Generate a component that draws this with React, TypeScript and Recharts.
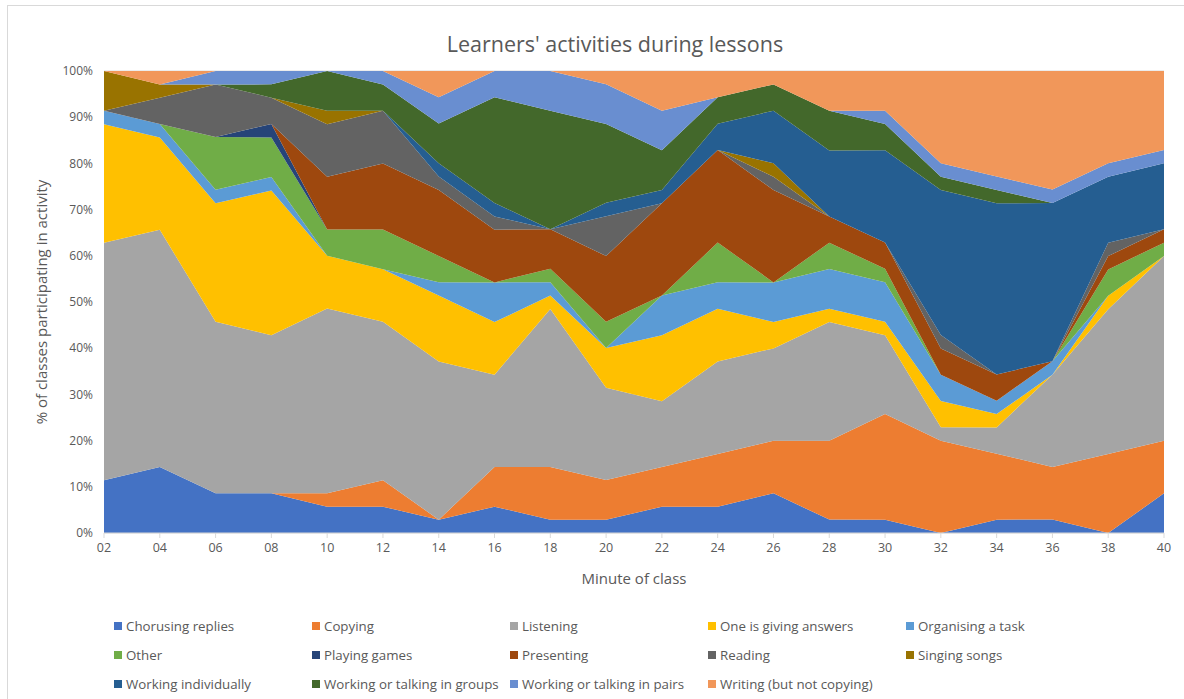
import { AreaChart, Area, XAxis, YAxis, CartesianGrid } from "recharts";

// Minutes of class (x categories)
const MINUTES = ["02", "04", "06", "08", "10", "12", "14", "16", "18", "20", "22", "24", "26", "28", "30", "32", "34", "36", "38", "40"];

// % of classes per activity
const CHORUSING = [11.4, 14.3, 8.6, 8.6, 5.7, 5.7, 2.9, 5.7, 2.9, 2.9, 5.7, 5.7, 8.6, 2.9, 2.9, 0, 2.9, 2.9, 0, 8.6];
const COPYING = [0, 0, 0, 0, 2.9, 5.7, 0, 8.6, 11.4, 8.6, 8.6, 11.4, 11.4, 17.1, 22.9, 20, 14.3, 11.4, 17.1, 11.4];
const LISTENING = [51.4, 51.4, 37.1, 34.3, 40, 34.3, 34.3, 20, 34.3, 20, 14.3, 20, 20, 25.7, 17.1, 2.9, 5.7, 20, 31.4, 40];
const GIVING_ANSWERS = [25.7, 20, 25.7, 31.4, 11.4, 11.4, 14.3, 11.4, 2.9, 8.6, 14.3, 11.4, 5.7, 2.9, 2.9, 5.7, 2.9, 0, 2.9, 0];
const ORGANISING = [2.9, 2.9, 2.9, 2.9, 0, 0, 2.9, 8.6, 2.9, 0, 8.6, 5.7, 8.6, 8.6, 8.6, 5.7, 2.9, 2.9, 0, 0];
const OTHER = [0, 0, 11.4, 8.6, 5.7, 8.6, 5.7, 0, 2.9, 5.7, 0, 8.6, 0, 5.7, 2.9, 0, 0, 0, 5.7, 2.9];
const PLAYING = [0, 0, 0, 2.9, 0, 0, 0, 0, 0, 0, 0, 0, 0, 0, 0, 0, 0, 0, 0, 0];
const PRESENTING = [0, 0, 0, 0, 11.4, 14.3, 14.3, 11.4, 8.6, 14.3, 20, 20, 20, 5.7, 5.7, 5.7, 5.7, 0, 2.9, 2.9];
const READING = [0, 5.7, 11.4, 5.7, 11.4, 11.4, 2.9, 2.9, 0, 8.6, 0, 0, 2.9, 0, 0, 2.9, 0, 0, 2.9, 0];
const SINGING = [8.6, 2.9, 0, 0, 2.9, 0, 0, 0, 0, 0, 0, 0, 2.9, 0, 0, 0, 0, 0, 0, 0];
const INDIVIDUALLY = [0, 0, 0, 0, 0, 0, 2.9, 2.9, 0, 2.9, 2.9, 5.7, 11.4, 14.3, 20, 31.4, 37.1, 34.3, 14.3, 14.3];
const GROUPS = [0, 0, 0, 2.9, 8.6, 5.7, 8.6, 22.9, 25.7, 17.1, 8.6, 5.7, 5.7, 8.6, 5.7, 2.9, 2.9, 0, 0, 0];
const PAIRS = [0, 0, 2.9, 2.9, 0, 2.9, 5.7, 5.7, 8.6, 8.6, 8.6, 0, 0, 0, 2.9, 2.9, 2.9, 2.9, 2.9, 2.9];
const WRITING = [0, 2.9, 0, 0, 0, 0, 5.7, 0, 0, 2.9, 8.6, 5.7, 2.9, 8.6, 8.6, 20, 22.9, 25.7, 20, 17.1];

const Y_TICKS = [0, 0.1, 0.2, 0.3, 0.4, 0.5, 0.6, 0.7, 0.8, 0.9, 1];

const SERIES = [
  { key: "chorusing", name: "Chorusing replies", color: "#4472C4", values: CHORUSING },
  { key: "copying", name: "Copying", color: "#ED7D31", values: COPYING },
  { key: "listening", name: "Listening", color: "#A5A5A5", values: LISTENING },
  { key: "giving", name: "One is giving answers", color: "#FFC000", values: GIVING_ANSWERS },
  { key: "organising", name: "Organising a task", color: "#5B9BD5", values: ORGANISING },
  { key: "other", name: "Other", color: "#70AD47", values: OTHER },
  { key: "playing", name: "Playing games", color: "#264478", values: PLAYING },
  { key: "presenting", name: "Presenting", color: "#9E480E", values: PRESENTING },
  { key: "reading", name: "Reading", color: "#636363", values: READING },
  { key: "singing", name: "Singing songs", color: "#997300", values: SINGING },
  { key: "individually", name: "Working individually", color: "#255E91", values: INDIVIDUALLY },
  { key: "groups", name: "Working or talking in groups", color: "#43682B", values: GROUPS },
  { key: "pairs", name: "Working or talking in pairs", color: "#698ED0", values: PAIRS },
  { key: "writing", name: "Writing (but not copying)", color: "#F1975A", values: WRITING },
];

const data = MINUTES.map((m, i) => {
  const row: Record<string, string | number> = { minute: m };
  SERIES.forEach((s) => {
    row[s.key] = s.values[i];
  });
  return row;
});

const FONT = "'Open Sans', 'Noto Sans', sans-serif";
const TEXT = "#595959";
const GRID = "#D9D9D9";

export default function App() {
  return (
    <div
      style={{
        position: "absolute",
        left: 0,
        top: 0,
        width: 1184,
        height: 699,
        background: "#fff",
        fontFamily: FONT,
        overflow: "hidden",
      }}
    >
      <div
        style={{
          position: "absolute",
          left: 7,
          top: 5,
          width: 1220,
          height: 740,
          border: `1px solid ${GRID}`,
          boxSizing: "border-box",
        }}
      />
      <div
        style={{
          position: "absolute",
          left: 0,
          top: 29,
          width: 1230,
          textAlign: "center",
          fontSize: 21.5,
          lineHeight: "30px",
          color: TEXT,
        }}
      >
        Learners' activities during lessons
      </div>
      <div style={{ position: "absolute", left: 0, top: 0 }}>
        <AreaChart
          width={1184}
          height={699}
          data={data}
          stackOffset="expand"
          margin={{ top: 71, right: 20, bottom: 136, left: 44 }}
        >
          <CartesianGrid vertical={false} stroke={GRID} />
          <XAxis
            dataKey="minute"
            height={30}
            stroke={GRID}
            tickSize={5}
            tickMargin={5}
            tick={{ fill: TEXT, fontSize: 12.5, fontFamily: FONT }}
            interval={0}
            label={{
              content: () => (
                <text x={634} y={584} textAnchor="middle" fill={TEXT} fontSize={15} fontFamily={FONT}>
                  Minute of class
                </text>
              ),
            }}
          />
          <YAxis
            width={60}
            domain={[0, 1]}
            ticks={Y_TICKS}
            axisLine={false}
            tickLine={false}
            tickMargin={5}
            tickFormatter={(v: number) => `${Math.round(v * 100)}%`}
            tick={{ fill: TEXT, fontSize: 12, fontFamily: FONT }}
            label={{
              content: () => (
                <text
                  x={47}
                  y={302}
                  transform="rotate(-90 47 302)"
                  textAnchor="middle"
                  fill={TEXT}
                  fontSize={15}
                  fontFamily={FONT}
                >
                  % of classes participating in activity
                </text>
              ),
            }}
          />
          {SERIES.map((s) => (
            <Area
              key={s.key}
              type="linear"
              dataKey={s.key}
              name={s.name}
              stackId="1"
              stroke="none"
              fill={s.color}
              fillOpacity={1}
              dot={false}
              activeDot={false}
              isAnimationActive={false}
            />
          ))}
        </AreaChart>
      </div>
      <div
        style={{
          position: "absolute",
          left: 114,
          top: 617,
          display: "grid",
          gridTemplateColumns: "repeat(5, 198px)",
          rowGap: 11,
          fontSize: 13.3,
          color: TEXT,
        }}
      >
        {SERIES.map((s) => (
          <div key={s.key} style={{ display: "flex", alignItems: "center", height: 18, whiteSpace: "nowrap" }}>
            <span style={{ width: 8, height: 8, background: s.color, marginRight: 4, flexShrink: 0 }} />
            {s.name}
          </div>
        ))}
      </div>
    </div>
  );
}
